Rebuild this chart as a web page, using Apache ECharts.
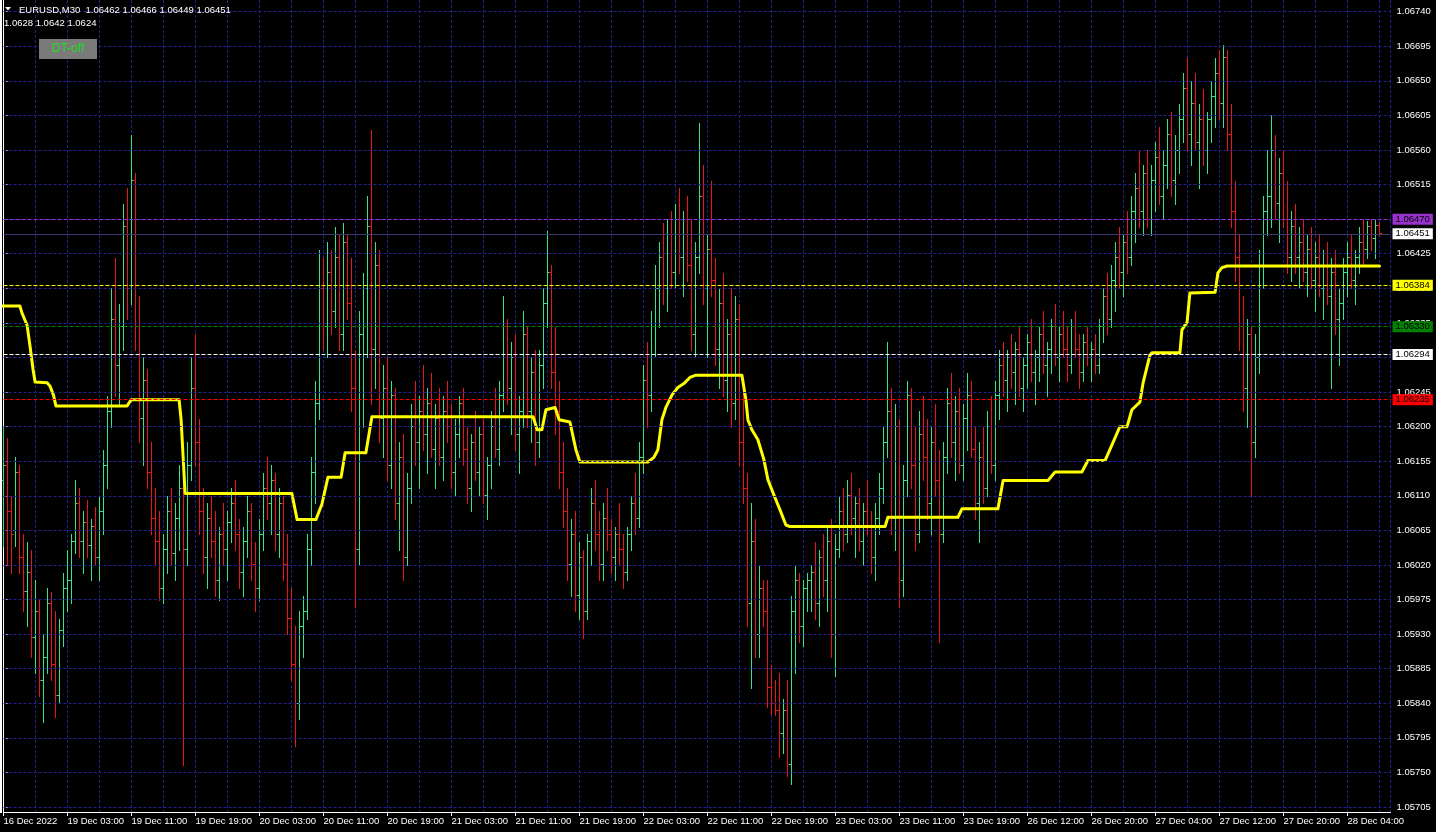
<!DOCTYPE html>
<html>
<head>
<meta charset="utf-8">
<title>EURUSD,M30</title>
<script src="https://cdn.jsdelivr.net/npm/echarts@6/dist/echarts.min.js"></script>
<style>
  html, body { margin: 0; padding: 0; background: #000; }
  #chart { width: 1436px; height: 832px; }
</style>
</head>
<body>
<div id="chart"></div>
<script>
// EURUSD M30 bars, one value per bar
const open = [
  1.0613,1.0615,1.0609,1.06065,1.0614,1.0603,1.05985,1.0601,1.05925,1.0596,
  1.0587,1.059,1.0597,1.0589,1.0585,1.05935,1.0599,1.06,1.0605,1.061,
  1.0605,1.06075,1.06045,1.0607,1.0603,1.0609,1.0615,1.0622,1.0634,1.0628,
  1.0633,1.0646,1.0638,1.0652,1.0633,1.0621,1.0626,1.0614,1.0608,1.0605,
  1.0599,1.0604,1.0609,1.06035,1.0608,1.0612,1.0604,1.0615,1.0625,1.0618,
  1.0609,1.0603,1.0608,1.0605,1.06,1.0606,1.0604,1.06075,1.061,1.0606,
  1.0601,1.0605,1.0609,1.0602,1.0599,1.0606,1.0612,1.061,1.0613,1.0606,
  1.061,1.0602,1.0595,1.0589,1.0584,1.0594,1.0596,1.0604,1.0614,1.0623,
  1.0638,1.0633,1.064,1.0635,1.0642,1.0632,1.0644,1.0636,1.0625,1.0604,
  1.0632,1.0638,1.0646,1.063,1.0641,1.0621,1.0625,1.0615,1.0624,1.061,
  1.0616,1.0603,1.0612,1.062,1.0618,1.0622,1.0619,1.0623,1.0617,1.0621,
  1.0616,1.0622,1.062,1.0614,1.0619,1.0623,1.0617,1.0612,1.0618,1.0614,
  1.0619,1.0611,1.0615,1.062,1.0617,1.0624,1.0633,1.0625,1.0629,1.0619,
  1.0622,1.0632,1.0622,1.0627,1.0618,1.0628,1.0636,1.064,1.0627,1.0622,
  1.0614,1.0609,1.0602,1.0606,1.0598,1.0603,1.0596,1.0605,1.061,1.0606,
  1.0602,1.0608,1.0606,1.0603,1.0606,1.0604,1.0601,1.0606,1.061,1.0608,
  1.0616,1.0626,1.0624,1.0633,1.0638,1.0642,1.0638,1.0645,1.064,1.0647,
  1.0642,1.0645,1.0641,1.0632,1.0642,1.065,1.0638,1.0643,1.0639,1.063,
  1.0636,1.0626,1.0632,1.0623,1.0634,1.0618,1.0612,1.0597,1.0605,1.0593,
  1.0599,1.0596,1.0586,1.0584,1.0583,1.058,1.0583,1.0576,1.0596,1.06,
  1.0594,1.0599,1.06,1.0601,1.0597,1.0603,1.06,1.0605,1.0593,1.0604,
  1.0609,1.0606,1.0611,1.0608,1.061,1.0605,1.0609,1.0607,1.0603,1.0608,
  1.0612,1.0618,1.0622,1.0608,1.062,1.06,1.0613,1.0624,1.0615,1.0606,
  1.0619,1.0616,1.061,1.0618,1.0613,1.0606,1.0616,1.0623,1.0618,1.0622,
  1.0615,1.0621,1.0624,1.0617,1.061,1.0616,1.0612,1.062,1.0615,1.0624,
  1.0628,1.0626,1.0629,1.0627,1.063,1.0625,1.0628,1.0631,1.0627,1.0629,
  1.0632,1.0628,1.063,1.0633,1.0629,1.0632,1.063,1.0628,1.0633,1.063,
  1.0627,1.0631,1.0629,1.063,1.0628,1.0633,1.0637,1.0634,1.0639,1.0642,
  1.064,1.0644,1.0642,1.0648,1.0651,1.0648,1.0653,1.0647,1.0652,1.0655,
  1.065,1.0654,1.0658,1.0652,1.0656,1.066,1.0664,1.0658,1.0662,1.0657,
  1.066,1.0656,1.066,1.0663,1.0666,1.0662,1.0668,1.0658,1.0648,1.0642,
  1.0633,1.0625,1.0632,1.0618,1.0629,1.0641,1.0648,1.065,1.0656,1.0649,
  1.0653,1.0647,1.0642,1.0646,1.0642,1.0644,1.064,1.0643,1.0639,1.0642,
  1.0638,1.0641,1.0637,1.064,1.0634,1.0636,1.064,1.0642,1.0639,1.0642,
  1.0644,1.0643,1.0646,1.06445,1.06462
];
const high = [
  1.062,1.06185,1.0611,1.0616,1.0615,1.0606,1.0605,1.0604,1.06,1.05975,
  1.0593,1.0599,1.05985,1.0596,1.0595,1.0601,1.0604,1.0606,1.06131,1.0612,
  1.0609,1.06105,1.0608,1.06095,1.0611,1.0617,1.0624,1.0638,1.0642,1.0636,
  1.0649,1.0651,1.0658,1.0653,1.0637,1.0629,1.06275,1.0618,1.0612,1.0609,
  1.0606,1.0611,1.0612,1.061,1.0615,1.0617,1.0618,1.0629,1.0632,1.0621,
  1.0612,1.061,1.0611,1.0609,1.0607,1.061,1.0609,1.0612,1.0613,1.0608,
  1.0607,1.0611,1.061,1.0605,1.0608,1.0614,1.0616,1.0615,1.0614,1.0612,
  1.0611,1.0606,1.0599,1.0594,1.0596,1.0598,1.0606,1.0616,1.0626,1.0643,
  1.0642,1.0644,1.0643,1.0646,1.0645,1.06465,1.0645,1.0642,1.063,1.0635,
  1.064,1.065,1.06586,1.0644,1.0643,1.0628,1.0629,1.0626,1.0625,1.0618,
  1.0619,1.0614,1.0623,1.0626,1.0624,1.0628,1.0625,1.0627,1.0623,1.0625,
  1.0624,1.0626,1.0623,1.0621,1.0624,1.0625,1.062,1.0619,1.0622,1.062,
  1.0621,1.0616,1.0622,1.0625,1.0626,1.0637,1.0634,1.0631,1.0632,1.0624,
  1.0635,1.0633,1.0629,1.063,1.063,1.0638,1.06455,1.0641,1.0633,1.0626,
  1.0618,1.0612,1.0608,1.0609,1.0605,1.0604,1.0606,1.0612,1.0613,1.0609,
  1.061,1.0612,1.0608,1.0607,1.061,1.0606,1.0607,1.0611,1.0614,1.0618,
  1.0628,1.0631,1.0635,1.0641,1.0644,1.06465,1.0647,1.0648,1.0649,1.0651,
  1.0648,1.065,1.0647,1.0644,1.06595,1.0654,1.0645,1.0652,1.0642,1.0638,
  1.064,1.0634,1.0638,1.0637,1.0636,1.0626,1.0614,1.061,1.0608,1.0602,
  1.06,1.06,1.0589,1.0587,1.0588,1.05845,1.0587,1.0598,1.0602,1.0601,
  1.06,1.0601,1.0602,1.0605,1.0604,1.0606,1.0607,1.0608,1.0606,1.0611,
  1.0612,1.0613,1.0614,1.0611,1.0612,1.061,1.0613,1.0609,1.061,1.0614,
  1.062,1.0631,1.0625,1.0623,1.0621,1.0615,1.0626,1.0625,1.062,1.0622,
  1.0624,1.0621,1.062,1.0623,1.0617,1.0618,1.0625,1.0627,1.0624,1.0625,
  1.0623,1.0627,1.0626,1.062,1.0618,1.062,1.0622,1.0624,1.0626,1.063,
  1.0631,1.063,1.0632,1.0631,1.0633,1.0629,1.0632,1.0634,1.063,1.0633,
  1.0635,1.0631,1.0634,1.0636,1.0633,1.0635,1.0633,1.0634,1.0635,1.0632,
  1.0632,1.0633,1.0631,1.0632,1.0634,1.0638,1.064,1.0641,1.0644,1.0646,
  1.0645,1.0648,1.065,1.0653,1.0656,1.0654,1.0656,1.0654,1.0657,1.0659,
  1.0656,1.066,1.0661,1.0658,1.0662,1.0666,1.0668,1.0665,1.0666,1.0662,
  1.0664,1.0661,1.0665,1.0668,1.0669,1.06697,1.0669,1.0662,1.0652,1.0645,
  1.0637,1.0634,1.0633,1.0632,1.0643,1.065,1.0656,1.06605,1.0658,1.0655,
  1.0656,1.0652,1.0648,1.0649,1.0646,1.0647,1.0645,1.0646,1.0644,1.0645,
  1.0643,1.0644,1.0642,1.0643,1.0638,1.0642,1.0644,1.0645,1.0643,1.0646,
  1.0647,1.06468,1.0647,1.0647,1.06466
];
const low = [
  1.06045,1.0602,1.0601,1.06045,1.0601,1.0596,1.0594,1.059,1.0588,1.0585,
  1.05815,1.0588,1.0587,1.05822,1.0584,1.05915,1.0596,1.0597,1.06035,1.0603,
  1.0601,1.0603,1.06,1.0602,1.06,1.0606,1.0612,1.062,1.0624,1.0623,
  1.063,1.0634,1.0636,1.063,1.0618,1.0615,1.0612,1.0606,1.0602,1.05975,
  1.0597,1.0601,1.0602,1.06,1.0604,1.0576,1.0602,1.0613,1.0615,1.0606,
  1.0601,1.0599,1.0603,1.0598,1.05975,1.0602,1.06,1.0605,1.0604,1.0599,
  1.0598,1.0603,1.06,1.0596,1.05975,1.0604,1.0608,1.0606,1.0604,1.0603,
  1.06,1.0593,1.0587,1.05785,1.0582,1.059,1.0595,1.0602,1.061,1.0621,
  1.063,1.0629,1.0632,1.0633,1.063,1.063,1.0634,1.0622,1.05965,1.0602,
  1.062,1.0629,1.0623,1.0625,1.0618,1.0616,1.0613,1.0612,1.0608,1.0604,
  1.06,1.0602,1.061,1.0615,1.0612,1.0617,1.0614,1.0616,1.0612,1.0615,
  1.0613,1.0618,1.0612,1.0611,1.0616,1.0615,1.061,1.0609,1.0613,1.0611,
  1.061,1.0608,1.0612,1.0616,1.0615,1.0622,1.0623,1.0619,1.0617,1.0614,
  1.062,1.062,1.0618,1.0615,1.0616,1.0625,1.0633,1.0625,1.0619,1.0612,
  1.0607,1.06,1.0598,1.0596,1.0595,1.05925,1.0595,1.0602,1.0604,1.06,
  1.06,1.0604,1.0601,1.06,1.0602,1.0599,1.06,1.0604,1.0606,1.0607,
  1.0614,1.062,1.0622,1.0629,1.0633,1.0636,1.0635,1.0638,1.0638,1.064,
  1.0637,1.0639,1.063,1.0629,1.064,1.0636,1.0629,1.0637,1.0628,1.0625,
  1.0624,1.0622,1.062,1.0621,1.0615,1.061,1.0594,1.0586,1.059,1.059,
  1.0594,1.05835,1.05826,1.05825,1.0577,1.05775,1.05745,1.05735,1.0588,1.0592,
  1.05915,1.0596,1.0596,1.0595,1.0594,1.0598,1.0596,1.059,1.05875,1.0603,
  1.0604,1.0605,1.0606,1.0603,1.0604,1.0602,1.0606,1.0601,1.06,1.0606,
  1.061,1.0616,1.0606,1.0604,1.05965,1.0598,1.0611,1.0612,1.0604,1.0605,
  1.0613,1.0608,1.0606,1.0611,1.0592,1.0605,1.0614,1.0616,1.0613,1.0614,
  1.0613,1.0617,1.0616,1.0608,1.0605,1.061,1.0611,1.0614,1.0613,1.0621,
  1.0624,1.0622,1.0625,1.0623,1.0624,1.0622,1.0625,1.0626,1.0623,1.0626,
  1.0627,1.0624,1.0627,1.0628,1.0626,1.0629,1.0626,1.0627,1.0629,1.0625,
  1.0626,1.0628,1.0626,1.0627,1.0627,1.0631,1.0632,1.0633,1.0635,1.0638,
  1.0637,1.064,1.0641,1.0644,1.0646,1.0645,1.0646,1.0645,1.0648,1.0649,
  1.0647,1.0651,1.065,1.0649,1.0653,1.0657,1.0656,1.0654,1.0656,1.0651,
  1.0654,1.0653,1.0657,1.0659,1.066,1.0659,1.0656,1.0646,1.0639,1.063,
  1.0622,1.062,1.0611,1.0616,1.0627,1.0638,1.0645,1.0646,1.0647,1.0644,
  1.0646,1.064,1.0639,1.064,1.0638,1.0639,1.0637,1.0638,1.0635,1.0637,
  1.0634,1.0636,1.0625,1.0632,1.0628,1.0634,1.0637,1.0638,1.0636,1.064,
  1.0641,1.0642,1.0643,1.0642,1.06449
];
const close = [
  1.0615,1.0609,1.0606,1.0614,1.0603,1.05985,1.0601,1.05925,1.0596,1.0587,
  1.059,1.0597,1.0589,1.0585,1.05935,1.0599,1.06,1.0605,1.061,1.0605,
  1.06075,1.06045,1.0607,1.0603,1.0609,1.0615,1.0622,1.0634,1.0628,1.0633,
  1.0646,1.0638,1.0652,1.0633,1.0621,1.0626,1.0614,1.0608,1.0605,1.0599,
  1.0604,1.0609,1.06035,1.0608,1.0612,1.0604,1.0615,1.0625,1.0618,1.0609,
  1.0603,1.0608,1.0605,1.06,1.0606,1.0604,1.06075,1.061,1.0606,1.0601,
  1.0605,1.0609,1.0602,1.0599,1.0606,1.0612,1.061,1.0613,1.0606,1.061,
  1.0602,1.0595,1.0589,1.0584,1.0594,1.0596,1.0604,1.0614,1.0623,1.0638,
  1.0633,1.064,1.0635,1.0642,1.0632,1.0644,1.0636,1.0625,1.0604,1.0632,
  1.0638,1.0646,1.063,1.0641,1.0621,1.0625,1.0615,1.0624,1.061,1.0616,
  1.0603,1.0612,1.062,1.0618,1.0622,1.0619,1.0623,1.0617,1.0621,1.0616,
  1.0622,1.062,1.0614,1.0619,1.0623,1.0617,1.0612,1.0618,1.0614,1.0619,
  1.0611,1.0615,1.062,1.0617,1.0624,1.0633,1.0625,1.0629,1.0619,1.0622,
  1.0632,1.0622,1.0627,1.0618,1.0628,1.0636,1.064,1.0627,1.0622,1.0614,
  1.0609,1.0602,1.0606,1.0598,1.0603,1.0596,1.0605,1.061,1.0606,1.0602,
  1.0608,1.0606,1.0603,1.0606,1.0604,1.0601,1.0606,1.061,1.0608,1.0616,
  1.0626,1.0624,1.0633,1.0638,1.0642,1.0638,1.0645,1.064,1.0647,1.0642,
  1.0645,1.0641,1.0632,1.0642,1.065,1.0638,1.0643,1.0639,1.063,1.0636,
  1.0626,1.0632,1.0623,1.0634,1.0618,1.0612,1.0597,1.0605,1.0593,1.0599,
  1.0596,1.0586,1.0584,1.0583,1.058,1.0583,1.0576,1.0596,1.06,1.0594,
  1.0599,1.06,1.0601,1.0597,1.0603,1.06,1.0605,1.0593,1.0604,1.0609,
  1.0606,1.0611,1.0608,1.061,1.0605,1.0609,1.0607,1.0603,1.0608,1.0612,
  1.0618,1.0622,1.0608,1.062,1.06,1.0613,1.0624,1.0615,1.0606,1.0619,
  1.0616,1.061,1.0618,1.0613,1.0606,1.0616,1.0623,1.0618,1.0622,1.0615,
  1.0621,1.0624,1.0617,1.061,1.0616,1.0612,1.062,1.0615,1.0624,1.0628,
  1.0626,1.0629,1.0627,1.063,1.0625,1.0628,1.0631,1.0627,1.0629,1.0632,
  1.0628,1.063,1.0633,1.0629,1.0632,1.063,1.0628,1.0633,1.063,1.0627,
  1.0631,1.0629,1.063,1.0628,1.0633,1.0637,1.0634,1.0639,1.0642,1.064,
  1.0644,1.0642,1.0648,1.0651,1.0648,1.0653,1.0647,1.0652,1.0655,1.065,
  1.0654,1.0658,1.0652,1.0656,1.066,1.0664,1.0658,1.0662,1.0657,1.066,
  1.0656,1.066,1.0663,1.0666,1.0662,1.0668,1.0658,1.0648,1.0642,1.0633,
  1.0625,1.0632,1.0618,1.0629,1.0641,1.0648,1.065,1.0656,1.0649,1.0653,
  1.0647,1.0642,1.0646,1.0642,1.0644,1.064,1.0643,1.0639,1.0642,1.0638,
  1.0641,1.0637,1.064,1.0634,1.0636,1.064,1.0642,1.0639,1.0642,1.0644,
  1.0643,1.0646,1.06445,1.06462,1.06451
];

// yellow indicator line: bar position -> price, at the points where it turns
const yellowBar = [
  -0.6, 4.1, 4.6, 5.9, 6.6, 7.4, 7.9, 10.9, 11.6, 12.5, 13.1, 30.9, 31.9, 43.9, 44.4, 45.4,
  72.1, 73.4, 78.1, 79.6, 81.1, 84.4, 85.4, 90.6, 92.1, 132.4, 133.4, 134.6, 135.6, 137.9,
  138.9, 141.6, 143.1, 144.1, 161.1, 162.6, 163.6, 164.6, 165.6, 167.1, 168.6, 170.1, 171.6,
  173.1, 184.6, 185.6, 186.1, 187.1, 188.6, 190.1, 191.1, 192.6, 194.1, 195.6, 196.6, 220.4,
  221.1, 238.6, 239.6, 248.6, 249.9, 261.1, 262.9, 269.6, 271.1, 275.4, 276.6, 279.1, 280.9,
  282.1, 284.1, 284.9, 286.6, 287.1, 294.1, 294.6, 295.9, 296.6, 297.1, 302.9, 303.6, 304.6,
  305.9, 344
];
const yellowPrice = [
  1.06357, 1.06357, 1.06348, 1.06332, 1.06306, 1.06274, 1.06258, 1.06257, 1.06253, 1.06241, 1.06227, 1.06227, 1.06235, 1.06235, 1.06209, 1.06113,
  1.06113, 1.06079, 1.06079, 1.06099, 1.06134, 1.06134, 1.06166, 1.06166, 1.06213, 1.06213, 1.06196, 1.06196, 1.06222, 1.06225,
  1.06209, 1.06206, 1.0617, 1.06154, 1.06154, 1.0616, 1.0617, 1.06209, 1.06225, 1.06241, 1.06251, 1.06256, 1.06264,
  1.06267, 1.06267, 1.06235, 1.06209, 1.06196, 1.06183, 1.06157, 1.06131, 1.06111, 1.06092, 1.06072, 1.0607, 1.0607,
  1.06082, 1.06082, 1.06093, 1.06093, 1.0613, 1.0613, 1.06141, 1.06141, 1.06156, 1.06156, 1.0617, 1.062, 1.062,
  1.06222, 1.06232, 1.06257, 1.06293, 1.06296, 1.06296, 1.06326, 1.06336, 1.06374, 1.06375, 1.06375, 1.064, 1.06407,
  1.06409, 1.06409
];

const timeLabels = [
  '16 Dec 2022', '19 Dec 03:00', '19 Dec 11:00', '19 Dec 19:00', '20 Dec 03:00', '20 Dec 11:00',
  '20 Dec 19:00', '21 Dec 03:00', '21 Dec 11:00', '21 Dec 19:00', '22 Dec 03:00', '22 Dec 11:00',
  '22 Dec 19:00', '23 Dec 03:00', '23 Dec 11:00', '23 Dec 19:00', '26 Dec 12:00', '26 Dec 20:00',
  '27 Dec 04:00', '27 Dec 12:00', '27 Dec 20:00', '28 Dec 04:00'
];
const priceTicks = [
  1.05705, 1.0575, 1.05795, 1.0584, 1.05885, 1.0593, 1.05975, 1.0602, 1.06065, 1.0611, 1.06155, 1.062,
  1.06245, 1.0629, 1.06335, 1.0638, 1.06425, 1.0647, 1.06515, 1.0656, 1.06605, 1.0665, 1.06695, 1.0674
];
// horizontal levels shown with a price box on the right
const levelPrices = [1.0647, 1.06451, 1.06384, 1.0633, 1.06294, 1.06235];

const labelFont = 'Liberation Sans, Arial, sans-serif';
const gridColor = '#22228e';
const bullColor = '#32e68c';
const bearColor = '#e81616';
const levelLine = ['#9932cc', '#3a3a70', '#ffff00', '#008000', '#ffffff', '#ff0000'];
const levelBox = ['#9932cc', '#ffffff', '#ffff00', '#008000', '#ffffff', '#ff0000'];
const levelDashed = [true, false, true, true, true, true];

const ohlc = open.map((o, i) => [i, o, high[i], low[i], close[i]]);
const yellowData = yellowBar.map((b, k) => [b, yellowPrice[k]]);

function renderBar(params, api) {
  const i = api.value(0);
  const o = api.coord([i, api.value(1)]);
  const h = api.coord([i, api.value(2)]);
  const l = api.coord([i, api.value(3)]);
  const c = api.coord([i, api.value(4)]);
  const x = Math.round(o[0] - 0.5) + 0.5;
  const col = api.value(4) >= api.value(1) ? bullColor : bearColor;
  const oy = Math.floor(o[1]) + 0.5;
  const cy = Math.floor(c[1]) + 0.5;
  return {
    type: 'group',
    children: [
      { type: 'line', shape: { x1: x, y1: Math.round(h[1]), x2: x, y2: Math.round(l[1]) + 1 }, style: { stroke: col, lineWidth: 1 } },
      { type: 'line', shape: { x1: x - 2.5, y1: oy, x2: x + 0.5, y2: oy }, style: { stroke: col, lineWidth: 1 } },
      { type: 'line', shape: { x1: x - 0.5, y1: cy, x2: x + 2.5, y2: cy }, style: { stroke: col, lineWidth: 1 } }
    ]
  };
}

const chart = echarts.init(document.getElementById('chart'));

chart.setOption({
  backgroundColor: '#000',
  animation: false,
  grid: { left: 3.5, right: 45.5, top: 0, bottom: 20, outerBoundsMode: 'none' },
  xAxis: [
    {
      type: 'value', min: 0, max: 346.75, interval: 16,
      axisLine: { lineStyle: { color: '#fff', width: 1 } },
      axisTick: { length: 4, lineStyle: { color: '#fff' } },
      axisLabel: {
        color: '#fff', fontSize: 9.5, fontFamily: labelFont, align: 'left', margin: 4,
        showMaxLabel: false,
        formatter: (v) => (v % 16 === 0 && timeLabels[v / 16]) || ''
      },
      splitLine: { show: false }
    },
    {
      type: 'value', min: 0, max: 346.75, interval: 8,
      axisLine: { show: false }, axisTick: { show: false }, axisLabel: { show: false },
      splitLine: { show: true, lineStyle: { color: gridColor, type: [3, 2], width: 1 } }
    }
  ],
  yAxis: {
    type: 'value', position: 'right',
    min: 1.0569849, max: 1.0675523,
    axisLine: { show: true, lineStyle: { color: '#fff', width: 1 } },
    axisTick: { show: true, length: 4, customValues: priceTicks, lineStyle: { color: '#fff' } },
    axisLabel: {
      customValues: priceTicks, color: '#fff', fontSize: 9.5, fontFamily: labelFont, margin: 6,
      formatter: (v) => v.toFixed(5)
    },
    splitLine: { show: false }
  },
  graphic: [
    { type: 'rect', shape: { x: 0, y: 0, width: 2, height: 813 }, style: { fill: '#fff' }, z: 10 },
    { type: 'polygon', shape: { points: [[5, 7], [11, 7], [8, 10.5]] }, style: { fill: '#fff' }, z: 10 },
    { type: 'text', x: 19, y: 10, style: { text: 'EURUSD,M30  1.06462 1.06466 1.06449 1.06451', fill: '#fff', font: '9.5px ' + labelFont, verticalAlign: 'middle' }, z: 10 },
    { type: 'text', x: 4, y: 23, style: { text: '1.0628 1.0642 1.0624', fill: '#fff', font: '9.5px ' + labelFont, verticalAlign: 'middle' }, z: 10 },
    { type: 'rect', shape: { x: 39, y: 39, width: 58, height: 20 }, style: { fill: '#7a7a7a' }, z: 10 },
    { type: 'text', x: 68, y: 49, style: { text: 'DT-off', fill: '#22e022', font: '12px ' + labelFont, align: 'center', verticalAlign: 'middle' }, z: 11 }
  ],
  series: [
    {
      // price grid, carried by an invisible copy of the indicator line
      type: 'line', z: 1, silent: true, data: yellowData,
      symbol: 'none', lineStyle: { opacity: 0 },
      markLine: {
        silent: true, symbol: ['none', 'none'], animation: false, precision: 5,
        label: { show: false },
        lineStyle: { color: gridColor, type: [3, 2], width: 1 },
        data: priceTicks.map((p) => ({ yAxis: p }))
      }
    },
    {
      type: 'custom', name: 'EURUSD', z: 2, clip: false,
      dimensions: ['idx', 'open', 'high', 'low', 'close'],
      encode: { x: 0, y: [1, 2, 3, 4] },
      data: ohlc,
      renderItem: renderBar
    },
    {
      type: 'line', z: 3, silent: true, data: yellowData,
      symbol: 'none', lineStyle: { opacity: 0 },
      markLine: {
        silent: true, symbol: ['none', 'none'], animation: false, precision: 5,
        data: levelPrices.map((p, k) => ({
          yAxis: p,
          lineStyle: { color: levelLine[k], width: 1, type: levelDashed[k] ? [4, 2] : 'solid' },
          label: {
            show: true, position: 'end', distance: 2,
            formatter: () => p.toFixed(5),
            color: '#000', fontSize: 9.5, fontFamily: labelFont,
            backgroundColor: levelBox[k], padding: [1, 3, 0, 3]
          }
        }))
      }
    },
    {
      type: 'line', z: 4, clip: false, silent: true,
      data: yellowData,
      showSymbol: false, symbol: 'none',
      lineStyle: { color: '#ffff00', width: 3, join: 'round', cap: 'round' }
    }
  ]
});
</script>
</body>
</html>
